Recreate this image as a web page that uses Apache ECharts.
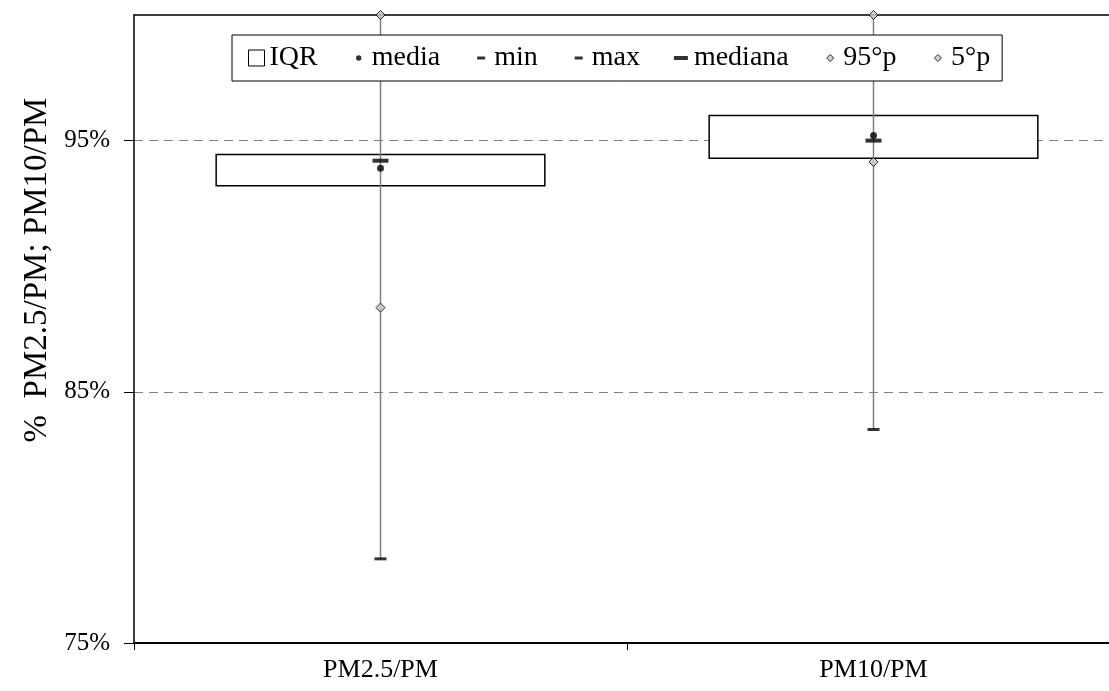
<!DOCTYPE html>
<html>
<head>
<meta charset="utf-8">
<script src="https://cdn.jsdelivr.net/npm/echarts@6/dist/echarts.min.js"></script>
<style>
html,body{margin:0;padding:0;background:#fff;}
#chart{width:1109px;height:691px;}
</style>
</head>
<body>
<div id="chart"></div>
<script>
// ---- data (percent) ----
var categories = ['PM2.5/PM', 'PM10/PM'];
var q1Values = [93.2, 94.3];
var q3Values = [94.45, 96.0];
var medianValues = [94.2, 95.0];
var meanValues = [93.9, 95.2];
var minValues = [78.35, 83.5];
var maxValues = [100.5, 100.5];
var p95Values = [100, 100];
var p5Values = [88.35, 94.15];
var yTickValues = [75, 85, 95];

var FONT = 'Liberation Serif';

function pairs(arr) { return arr.map(function (v, i) { return [i, v]; }); }

var boxData = categories.map(function (c, i) {
  return [i, q1Values[i], q3Values[i], minValues[i], maxValues[i]];
});

var chart = echarts.init(document.getElementById('chart'));

var legendIcons = {
  IQR: 'rect',
  dot: 'path://M0,0M16,16M8,5.3A2.7,2.7,0,1,1,8,10.7A2.7,2.7,0,1,1,8,5.3Z',
  dash: 'path://M0,0M16,16M4,6.5L12,6.5L12,9.5L4,9.5Z',
  bigdash: 'path://M0,0M16,16M1,6L15,6L15,10L1,10Z',
  diamond: 'path://M0,0M16,16M8,4.5L11.5,8L8,11.5L4.5,8Z'
};

var option = {
  animation: false,
  backgroundColor: '#fff',
  textStyle: { fontFamily: FONT, color: '#000' },
  grid: { left: 134, top: 15, width: 986, height: 628, show: false, outerBoundsMode: 'none', containLabel: false },
  legend: {
    left: 232, top: 35,
    orient: 'horizontal',
    backgroundColor: '#fff',
    borderColor: '#000', borderWidth: 1,
    padding: [9, 12, 9, 16],
    itemWidth: 16, itemHeight: 16,
    itemGap: 33,
    selectedMode: false,
    textStyle: { fontFamily: FONT, fontSize: 28, color: '#000', lineHeight: 28 },
    data: [
      { name: 'IQR', icon: legendIcons.IQR, itemStyle: { color: '#fff', borderColor: '#000', borderWidth: 1 } },
      { name: 'media', icon: legendIcons.dot, itemStyle: { color: '#000', borderWidth: 0 } },
      { name: 'min', icon: legendIcons.dash, itemStyle: { color: '#000', borderWidth: 0 } },
      { name: 'max', icon: legendIcons.dash, itemStyle: { color: '#000', borderWidth: 0 } },
      { name: 'mediana', icon: legendIcons.bigdash, itemStyle: { color: '#000', borderWidth: 0 } },
      { name: '95°p', icon: legendIcons.diamond, itemStyle: { color: '#c8c8c8', borderColor: '#000', borderWidth: 1 } },
      { name: '5°p', icon: legendIcons.diamond, itemStyle: { color: '#c8c8c8', borderColor: '#000', borderWidth: 1 } }
    ]
  },
  xAxis: [{
    type: 'category',
    data: categories,
    boundaryGap: true,
    z: 1,
    axisLine: { lineStyle: { color: '#000', width: 2 } },
    axisTick: { show: true, inside: false, length: 7, lineStyle: { color: '#000', width: 1 } },
    axisLabel: { fontFamily: FONT, fontSize: 26, color: '#000', margin: 14 },
    splitLine: { show: false }
  }, {
    type: 'category',
    data: categories,
    position: 'top',
    z: 1,
    axisLine: { lineStyle: { color: '#000', width: 1.5 } },
    axisTick: { show: false },
    axisLabel: { show: false },
    splitLine: { show: false }
  }],
  yAxis: {
    type: 'value',
    min: 75, max: 100, interval: 10,
    z: 1,
    axisLine: { show: true, lineStyle: { color: '#000', width: 1.5 } },
    axisTick: { show: true, length: 10, customValues: yTickValues, lineStyle: { color: '#000', width: 1 } },
    axisLabel: {
      fontFamily: FONT, fontSize: 25, color: '#000', margin: 24,
      customValues: yTickValues,
      formatter: function (v) { return yTickValues.indexOf(v) >= 0 ? v + '%' : ''; }
    },
    splitLine: { show: true, lineStyle: { color: '#808080', width: 1, type: [9, 6] } }
  },
  graphic: [{
    type: 'text',
    x: 37, y: 270,
    rotation: Math.PI / 2,
    style: {
      text: '%  PM2.5/PM; PM10/PM',
      fontFamily: FONT, fontSize: 33, fill: '#000',
      align: 'center', verticalAlign: 'middle'
    }
  }],
  series: [
    {
      name: 'IQR',
      type: 'custom',
      clip: true,
      z: 2,
      silent: true,
      data: boxData,
      encode: { x: 0, y: [1, 2, 3, 4] },
      renderItem: function (params, api) {
        var idx = api.value(0);
        var bw = api.size([1, 0])[0] * 2 / 3;
        var pQ1 = api.coord([idx, api.value(1)]);
        var pQ3 = api.coord([idx, api.value(2)]);
        var pMin = api.coord([idx, api.value(3)]);
        var pMax = api.coord([idx, api.value(4)]);
        return {
          type: 'group',
          children: [{
            type: 'rect',
            shape: { x: pQ1[0] - bw / 2, y: pQ3[1], width: bw, height: pQ1[1] - pQ3[1] },
            style: { fill: '#fff', stroke: '#000', lineWidth: 1.5 }
          }, {
            type: 'line',
            shape: { x1: pMin[0], y1: pMin[1], x2: pMax[0], y2: pMax[1] },
            style: { stroke: '#808080', lineWidth: 1.5 }
          }]
        };
      }
    },
    {
      name: 'min', type: 'scatter', z: 4, silent: true,
      symbol: 'rect', symbolSize: [12, 3],
      itemStyle: { color: '#000' },
      data: pairs(minValues)
    },
    {
      name: 'max', type: 'scatter', z: 4, silent: true,
      symbol: 'rect', symbolSize: [12, 3],
      itemStyle: { color: '#000' },
      data: pairs(maxValues)
    },
    {
      name: 'mediana', type: 'scatter', z: 5, silent: true,
      symbol: 'rect', symbolSize: [16, 4],
      itemStyle: { color: '#000' },
      data: pairs(medianValues)
    },
    {
      name: 'media', type: 'scatter', z: 6, silent: true,
      symbol: 'circle', symbolSize: 7,
      itemStyle: { color: '#000' },
      data: pairs(meanValues)
    },
    {
      name: '95°p', type: 'scatter', z: 6, silent: true, clip: false,
      symbol: 'diamond', symbolSize: 9,
      itemStyle: { color: '#c8c8c8', borderColor: '#000', borderWidth: 1 },
      data: pairs(p95Values)
    },
    {
      name: '5°p', type: 'scatter', z: 6, silent: true,
      symbol: 'diamond', symbolSize: 9,
      itemStyle: { color: '#c8c8c8', borderColor: '#000', borderWidth: 1 },
      data: pairs(p5Values)
    }
  ]
};

chart.setOption(option);
</script>
</body>
</html>
